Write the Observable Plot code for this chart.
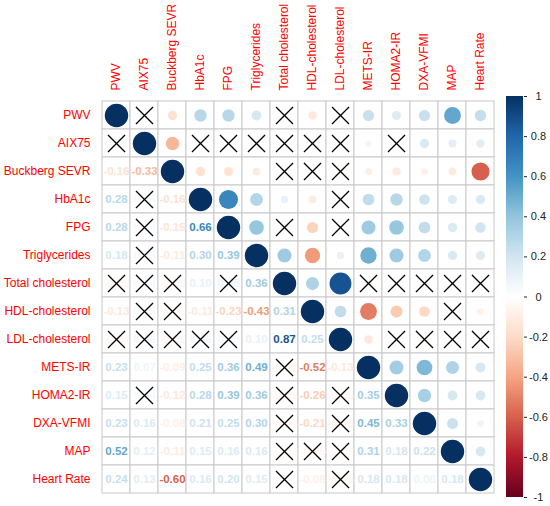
<!DOCTYPE html>
<html>
<head>
<meta charset="utf-8">
<script src="https://cdn.jsdelivr.net/npm/d3@7"></script>
<script src="https://cdn.jsdelivr.net/npm/@observablehq/plot@0.6"></script>
<style>
  html, body { margin: 0; padding: 0; background: white; }
  #wrap { position: relative; width: 550px; height: 506px; }
  #wrap svg { position: absolute; left: 0; top: 0; }
</style>
</head>
<body>
<div id="wrap"></div>
<script>
// Variables (rows/columns)
const variables = ["PWV", "AIX75", "Buckberg SEVR", "HbA1c", "FPG", "Triglycerides",
  "Total cholesterol", "HDL-cholesterol", "LDL-cholesterol", "METS-IR", "HOMA2-IR",
  "DXA-VFMI", "MAP", "Heart Rate"];

// Lower-triangle correlations: each row against the preceding variables
const rowAIX75        = [0.05];
const rowBuckberg     = [-0.16, -0.33];
const rowHbA1c        = [0.28, 0.04, -0.16];
const rowFPG          = [0.28, 0.03, -0.15, 0.66];
const rowTriglycerides= [0.18, 0.05, -0.11, 0.30, 0.39];
const rowTotalChol    = [-0.05, 0.03, -0.06, 0.10, 0.08, 0.36];
const rowHDL          = [-0.13, 0.05, -0.03, -0.11, -0.23, -0.43, 0.31];
const rowLDL          = [-0.04, 0.06, -0.06, 0.06, 0.03, 0.10, 0.87, 0.25];
const rowMETS         = [0.23, 0.07, -0.09, 0.25, 0.36, 0.49, -0.07, -0.52, -0.13];
const rowHOMA2        = [0.15, 0.04, -0.12, 0.28, 0.39, 0.36, -0.05, -0.26, -0.05, 0.35];
const rowDXA          = [0.23, 0.16, -0.08, 0.21, 0.25, 0.30, -0.04, -0.21, -0.06, 0.45, 0.33];
const rowMAP          = [0.52, 0.12, -0.11, 0.15, 0.16, 0.16, -0.03, -0.05, -0.02, 0.31, 0.18, 0.22];
const rowHeartRate    = [0.24, 0.13, -0.60, 0.16, 0.20, 0.15, 0.02, -0.08, -0.05, 0.18, 0.18, 0.08, 0.18];

// Non-significant pairs (row index, column index), marked with a cross
const insignificant = [[1,0],[3,1],[4,1],[5,1],[6,0],[6,1],[6,2],[6,4],[7,1],[7,2],
  [8,0],[8,1],[8,2],[8,3],[8,4],[9,6],[10,1],[10,6],[10,8],[11,6],[11,8],
  [12,6],[12,7],[12,8],[13,6],[13,8]];

// Colour bar ticks
const barTicks = [-1, -0.8, -0.6, -0.4, -0.2, 0, 0.2, 0.4, 0.6, 0.8, 1];
const rdbu = ["#67001F", "#B2182B", "#D6604D", "#F4A582", "#FDDBC7", "#FFFFFF",
  "#D1E5F0", "#92C5DE", "#4393C3", "#2166AC", "#053061"];

// ---- build the table ----
const lowerRows = [[], rowAIX75, rowBuckberg, rowHbA1c, rowFPG, rowTriglycerides, rowTotalChol,
  rowHDL, rowLDL, rowMETS, rowHOMA2, rowDXA, rowMAP, rowHeartRate];
const n = variables.length;
const M = Array.from({length: n}, (_, i) => Array.from({length: n}, (_, j) => i === j ? 1 : null));
lowerRows.forEach((vals, i) => vals.forEach((v, j) => { M[i][j] = v; M[j][i] = v; }));
const insigSet = new Set();
insignificant.forEach(([i, j]) => { insigSet.add(i + "," + j); insigSet.add(j + "," + i); });

const cells = [];
for (let i = 0; i < n; i++) for (let j = 0; j < n; j++) {
  cells.push({row: variables[i], col: variables[j], i, j, value: M[i][j], insig: insigSet.has(i + "," + j)});
}
const upper = cells.filter(d => d.j >= d.i);
const lower = cells.filter(d => d.j < d.i);
const crosses = cells.filter(d => d.insig);

const colorScale = {type: "linear", domain: barTicks, range: rdbu, interpolate: "rgb"};
const font = "'Liberation Sans', Arial, Helvetica, sans-serif";

const main = Plot.plot({
  width: 550, height: 506,
  marginLeft: 97, marginRight: 52, marginTop: 96, marginBottom: 9,
  style: {fontFamily: font, fontSize: "12px", background: "transparent"},
  x: {domain: variables, padding: 0, axis: null},
  y: {domain: variables, padding: 0, axis: null},
  color: colorScale,
  r: {type: "sqrt", domain: [0, 1], range: [0, 11.7]},
  marks: [
    Plot.cell(cells, {x: "col", y: "row", fill: "white", stroke: "#c8c8c8", strokeWidth: 1, inset: 0}),
    Plot.dot(upper, {x: "col", y: "row", r: d => Math.abs(d.value), fill: "value", stroke: null}),
    Plot.text(lower, {x: "col", y: "row", text: d => d.value.toFixed(2), fill: "value",
      fontWeight: "bold", fontSize: 11.5}),
    Plot.dot(crosses, {x: "col", y: "row", symbol: "times", r: 7.8, stroke: "black", strokeWidth: 1.3}),
    Plot.axisY({tickSize: 0, tickPadding: 7, color: "red", label: null, fontSize: 12}),
    Plot.axisX({anchor: "top", tickRotate: -90, tickSize: 0, tickPadding: 6, color: "red", label: null, fontSize: 12})
  ]
});

const step = 0.01;
const stops = d3.range(-1, 1 - step / 2, step);
const bar = Plot.plot({
  width: 550, height: 506,
  marginLeft: 506, marginRight: 27, marginTop: 96, marginBottom: 9,
  style: {fontFamily: font, fontSize: "11px", background: "transparent"},
  x: {domain: [0, 1], axis: null},
  y: {domain: [-1, 1], axis: null},
  color: colorScale,
  marks: [
    Plot.rect(stops, {x1: 0, x2: 1, y1: d => d, y2: d => d + step, fill: d => d + step / 2, shapeRendering: "crispEdges"}),
    Plot.axisY({anchor: "right", ticks: barTicks, tickSize: 3, tickPadding: 12, textAnchor: "middle",
      tickFormat: d => String(Number(d.toFixed(1))), label: null, color: "#222", fontSize: 11})
  ]
});
bar.style.pointerEvents = "none";

const wrap = document.getElementById("wrap");
wrap.appendChild(main);
wrap.appendChild(bar);
</script>
</body>
</html>
